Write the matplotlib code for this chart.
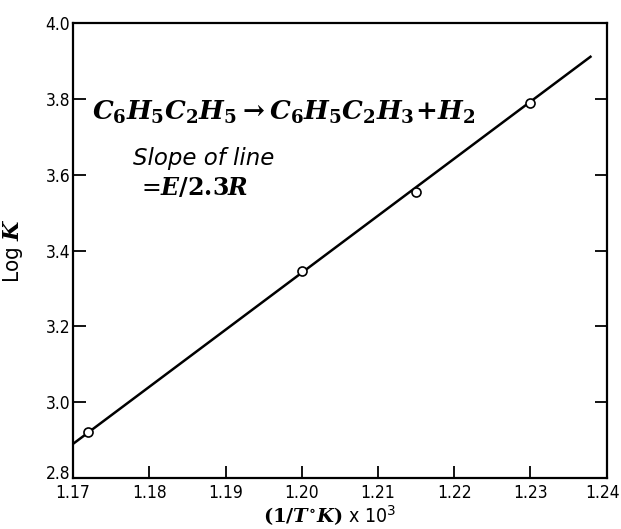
import matplotlib
matplotlib.use("Agg")
import matplotlib.pyplot as plt
import matplotlib.transforms as mtrans

# data
pts_x = [1.172, 1.200, 1.215, 1.230]
pts_y = [2.921, 3.345, 3.555, 3.790]
line_x = [1.1700, 1.2380]
line_y = [2.890, 3.913]
xticks = [1.17, 1.18, 1.19, 1.20, 1.21, 1.22, 1.23, 1.24]
xtick_labels = ["1.17", "1.18", "1.19", "1.20", "1.21", "1.22", "1.23", "1.24"]
yticks = [2.8, 3.0, 3.2, 3.4, 3.6, 3.8, 4.0]
ytick_labels = ["2.8", "3.0", "3.2", "3.4", "3.6", "3.8", "4.0"]

plt.rcParams['mathtext.fontset'] = 'custom'
plt.rcParams['mathtext.it'] = 'DejaVu Serif:italic:bold'
plt.rcParams['mathtext.rm'] = 'DejaVu Serif:bold'
plt.rcParams['mathtext.bf'] = 'DejaVu Serif:italic:bold'
plt.rcParams['mathtext.sf'] = 'DejaVu Sans'

tickfont = dict(family='DejaVu Sans', stretch='condensed', size=12.5)

fig = plt.figure(figsize=(6.21, 5.29), dpi=100)
ax = fig.add_axes([0.1176, 0.0964, 0.977 - 0.1176, 0.9565 - 0.0964])

ax.plot(line_x, line_y, color='black', lw=1.8, solid_capstyle='butt')
ax.plot(pts_x, pts_y, linestyle='none', marker='o', ms=6.5, mfc='white',
        mec='black', mew=1.2, zorder=3)

ax.set_xlim(1.17, 1.24)
ax.set_ylim(2.8, 4.0)
ax.set_xticks(xticks)
ax.set_xticklabels(xtick_labels, **tickfont)
ax.set_yticks(yticks)
ax.set_yticklabels(ytick_labels, **tickfont)
ax.tick_params(axis='both', direction='in', length=9, width=1.3,
               colors='black')
ax.tick_params(axis='x', pad=4, top=False)
ax.tick_params(axis='y', pad=2, right=True, left=True)
for s in ax.spines.values():
    s.set_linewidth(1.6)

# keep the last x tick label inside the figure
last = ax.get_xticklabels()[-1]
last.set_transform(last.get_transform() +
                   mtrans.ScaledTranslation(-4 / 100, 0, fig.dpi_scale_trans))
first_y = ax.get_yticklabels()[0]
first_y.set_transform(first_y.get_transform() +
                      mtrans.ScaledTranslation(0, 6 / 100, fig.dpi_scale_trans))

ax.text(0.036, 0.804, r'$C_6H_5C_2H_5 \rightarrow C_6H_5C_2H_3\!+\!H_2$',
        transform=ax.transAxes, fontsize=18.8, ha='left', va='center')
ax.text(0.112, 0.703, 'Slope of line', transform=ax.transAxes,
        family='DejaVu Sans', style='italic', fontsize=16.5,
        ha='left', va='center')
ax.text(0.128, 0.637, r'=$E/2.3R$', transform=ax.transAxes,
        fontsize=17, ha='left', va='center')

ax.set_xlabel(r'$(1/T^{\circ}K)$' + r' x 10$^{\mathsf{3}}$',
              family='DejaVu Sans', stretch='condensed', fontsize=14,
              labelpad=1)
ax.xaxis.set_label_coords(0.481, -0.058)
ax.set_ylabel(r'Log $K$', family='DejaVu Sans', stretch='condensed',
              fontsize=16, labelpad=2)
ax.yaxis.set_label_coords(-0.09, 0.5)

fig.savefig('out.png', dpi=100)
